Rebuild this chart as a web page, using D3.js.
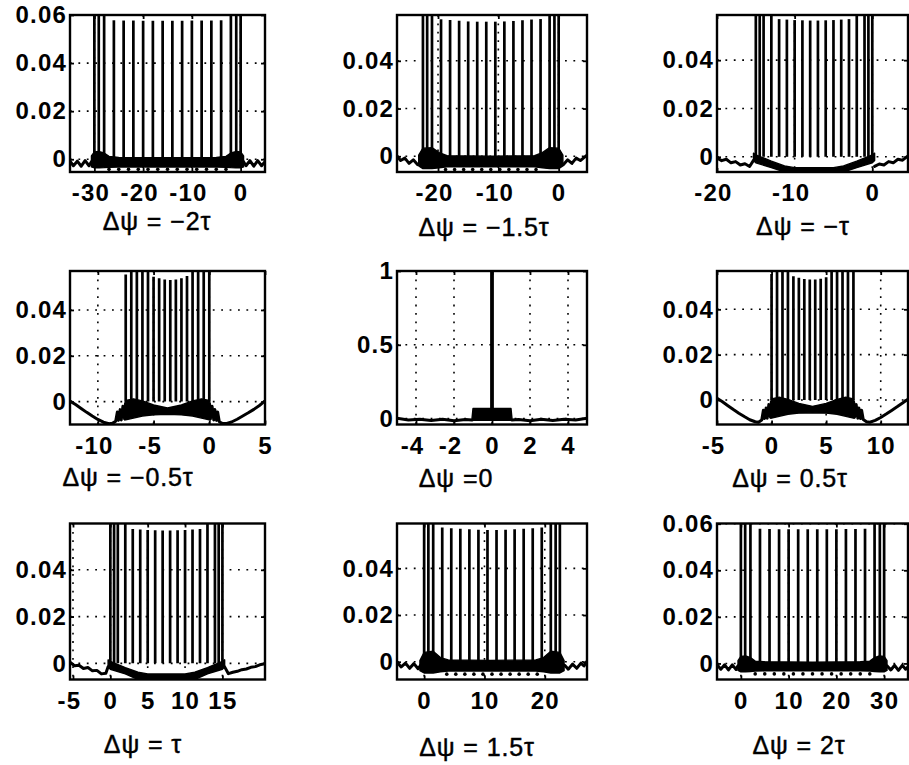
<!DOCTYPE html>
<html>
<head>
<meta charset="utf-8">
<script src="https://cdn.jsdelivr.net/npm/d3@7"></script>
<style>
  html, body { margin: 0; padding: 0; background: #fff; }
  svg { display: block; }
  .tick text { font-family: "Liberation Sans", Arial, Helvetica, sans-serif; font-weight: bold; font-size: 24px; fill: #000; letter-spacing: 1.2px; }
  .panel-title { font-family: "Liberation Sans", Arial, Helvetica, sans-serif; font-size: 25px; fill: #000; stroke: #000; stroke-width: 0.45px; letter-spacing: 0.9px; }
</style>
</head>
<body>
<svg id="fig" width="909" height="765"></svg>
<script>
// ---------------- values ----------------
const titles = ["Δψ = −2τ", "Δψ = −1.5τ", "Δψ = −τ", "Δψ = −0.5τ", "Δψ =0", "Δψ = 0.5τ", "Δψ = τ", "Δψ = 1.5τ", "Δψ = 2τ"];

const xLimits = [[-35, 5], [-26.8, 4.7], [-20, 4.6], [-12.5, 5], [-5, 5], [-5, 12.5], [-5.4, 20.7], [-4.5, 27], [-5, 35]];
const yLimits = [[-0.0053, 0.06], [-0.0066, 0.0592], [-0.0063, 0.0587], [-0.0100, 0.0570], [-0.04, 1], [-0.0108, 0.0569], [-0.0069, 0.0598], [-0.0076, 0.0592], [-0.0069, 0.0601]];

const xTickValues = [[-30, -20, -10, 0], [-20, -10, 0], [-20, -10, 0], [-10, -5, 0, 5], [-4, -2, 0, 2, 4], [-5, 0, 5, 10], [-5, 0, 5, 10, 15], [0, 10, 20], [0, 10, 20, 30]];
const xTickLabels = [["-30", "-20", "-10", "0"], ["-20", "-10", "0"], ["-20", "-10", "0"], ["-10", "-5", "0", "5"], ["-4", "-2", "0", "2", "4"], ["-5", "0", "5", "10"], ["-5", "0", "5", "10", "15"], ["0", "10", "20"], ["0", "10", "20", "30"]];
const yTickValues = [[0, 0.02, 0.04, 0.06], [0, 0.02, 0.04], [0, 0.02, 0.04], [0, 0.02, 0.04], [0, 0.5, 1], [0, 0.02, 0.04], [0, 0.02, 0.04], [0, 0.02, 0.04], [0, 0.02, 0.04, 0.06]];
const yTickLabels = [["0", "0.02", "0.04", "0.06"], ["0", "0.02", "0.04"], ["0", "0.02", "0.04"], ["0", "0.02", "0.04"], ["0", "0.5", "1"], ["0", "0.02", "0.04"], ["0", "0.02", "0.04"], ["0", "0.02", "0.04"], ["0", "0.02", "0.04", "0.06"]];

// peaks: [offset, level]
const spikesA = [[-30, 0.0625], [-29.1, 0.0625], [-28, 0.0625], [-26, 0.0578], [-24, 0.0577], [-22, 0.0577], [-20, 0.0576], [-18, 0.0576], [-16, 0.0576], [-14, 0.0576], [-12, 0.0576], [-10, 0.0577], [-8, 0.0577], [-6, 0.0577], [-4, 0.0578], [-2, 0.0625], [-0.9, 0.0625], [0, 0.0625]];
const spikesB = [[-22.5, 0.0625], [-21.8, 0.0625], [-21, 0.0625], [-19.5, 0.0574], [-18, 0.0571], [-16.5, 0.0568], [-15, 0.0565], [-13.5, 0.0564], [-12, 0.0564], [-10.5, 0.0564], [-9, 0.0565], [-7.5, 0.0567], [-6, 0.0570], [-4.5, 0.0573], [-3, 0.0575], [-1.5, 0.0625], [-0.7, 0.0625], [0, 0.0625]];
const spikesC = [[-15, 0.0625], [-14.5, 0.0625], [-14, 0.0625], [-13, 0.0625], [-12, 0.0570], [-11, 0.0568], [-10, 0.0566], [-9, 0.0565], [-8, 0.0564], [-7, 0.0564], [-6, 0.0565], [-5, 0.0566], [-4, 0.0568], [-3, 0.0570], [-2, 0.0625], [-1, 0.0625], [-0.5, 0.0625], [0, 0.0625]];
const spikesD = [[-7.5, 0.0555], [-7, 0.0625], [-6.5, 0.0625], [-6, 0.0625], [-5.5, 0.0625], [-5, 0.0545], [-4.5, 0.0538], [-4, 0.0533], [-3.5, 0.0531], [-3, 0.0533], [-2.5, 0.0538], [-2, 0.0548], [-1.5, 0.0625], [-1, 0.0625], [-0.5, 0.0625], [0, 0.0625]];
const spikesE = [[0, 1]];
const spikesF = [[0, 0.0556], [0.5, 0.0625], [1, 0.0625], [1.5, 0.0625], [2, 0.0546], [2.5, 0.0539], [3, 0.0534], [3.5, 0.0531], [4, 0.0532], [4.5, 0.0535], [5, 0.0541], [5.5, 0.0625], [6, 0.0625], [6.5, 0.0625], [7, 0.0625], [7.5, 0.0625]];
const spikesG = [[0, 0.0625], [0.5, 0.0625], [1, 0.0625], [2, 0.0625], [3, 0.0574], [4, 0.0572], [5, 0.0570], [6, 0.0569], [7, 0.0568], [8, 0.0568], [9, 0.0569], [10, 0.0570], [11, 0.0572], [12, 0.0574], [13, 0.0625], [14, 0.0625], [14.5, 0.0625], [15, 0.0625]];
const spikesH = [[0, 0.0625], [0.7, 0.0625], [1.5, 0.0625], [3, 0.0575], [4.5, 0.0572], [6, 0.0569], [7.5, 0.0567], [9, 0.0565], [10.5, 0.0564], [12, 0.0564], [13.5, 0.0565], [15, 0.0567], [16.5, 0.0569], [18, 0.0572], [19.5, 0.0575], [21, 0.0625], [21.8, 0.0625], [22.5, 0.0625]];
const spikesI = [[0, 0.0625], [0.9, 0.0625], [2, 0.0625], [4, 0.0578], [6, 0.0577], [8, 0.0576], [10, 0.0576], [12, 0.0576], [14, 0.0576], [16, 0.0576], [18, 0.0576], [20, 0.0576], [22, 0.0577], [24, 0.0577], [26, 0.0578], [28, 0.0625], [29.1, 0.0625], [30, 0.0625]];

// dense floor under the peaks: [offset, lower, upper]
const floorA = [[-30.6, -0.0032, 0.0014], [-30, -0.0036, 0.0030], [-29, -0.0036, 0.0032], [-28, -0.0035, 0.0026], [-27, -0.0033, 0.0012], [-25, -0.0032, 0.0008], [-15, -0.0032, 0.0006], [-5, -0.0032, 0.0008], [-3, -0.0033, 0.0012], [-2, -0.0035, 0.0026], [-1, -0.0036, 0.0032], [0, -0.0036, 0.0030], [0.6, -0.0032, 0.0014]];
const floorB = [[-23.2, -0.0040, 0.0005], [-22.5, -0.0052, 0.0034], [-21, -0.0052, 0.0036], [-19.8, -0.0048, 0.0015], [-18.5, -0.0044, 0.0002], [-11, -0.0044, 0.0000], [-4, -0.0044, 0.0002], [-2.7, -0.0048, 0.0015], [-1.5, -0.0052, 0.0036], [0, -0.0052, 0.0034], [0.7, -0.0040, 0.0005]];
const floorC = [[-15.3, -0.0015, 0.0015], [-15, -0.0025, 0.0008], [-13, -0.0045, -0.0018], [-11.3, -0.0063, -0.0038], [-10, -0.0063, -0.0045], [-5, -0.0063, -0.0045], [-3.7, -0.0063, -0.0038], [-2, -0.0045, -0.0018], [0, -0.0025, 0.0008], [0.3, -0.0015, 0.0015]];
const floorD = [[-7.6, -0.0080, -0.0010], [-7.5, -0.0080, 0.0005], [-6.8, -0.0072, 0.0012], [-6, -0.0063, 0.0003], [-5, -0.0058, -0.0015], [-3.75, -0.0056, -0.0028], [-2.5, -0.0058, -0.0015], [-1.5, -0.0063, 0.0003], [-0.7, -0.0072, 0.0012], [0, -0.0080, 0.0005], [0.1, -0.0080, -0.0010]];
const floorE = [[-1.05, -0.012, 0.004], [-1, -0.012, 0.068], [1, -0.012, 0.068], [1.05, -0.012, 0.004]];
const floorF = [[-0.1, -0.0080, -0.0010], [0, -0.0080, 0.0005], [0.7, -0.0072, 0.0012], [1.5, -0.0063, 0.0003], [2.5, -0.0058, -0.0015], [3.75, -0.0056, -0.0028], [5, -0.0058, -0.0015], [6, -0.0063, 0.0003], [6.8, -0.0072, 0.0012], [7.5, -0.0080, 0.0005], [7.6, -0.0080, -0.0010]];
const floorG = [[-0.3, -0.0015, 0.0015], [0, -0.0025, 0.0008], [2, -0.0045, -0.0018], [3.7, -0.0069, -0.0038], [5, -0.0069, -0.0045], [10, -0.0069, -0.0045], [11.3, -0.0069, -0.0038], [13, -0.0045, -0.0018], [15, -0.0025, 0.0008], [15.3, -0.0015, 0.0015]];
const floorH = [[-0.7, -0.0038, 0.0005], [0, -0.0048, 0.0040], [1.5, -0.0048, 0.0045], [2.7, -0.0043, 0.0018], [4, -0.0040, 0.0008], [11, -0.0040, 0.0006], [18.5, -0.0040, 0.0008], [19.8, -0.0043, 0.0018], [21, -0.0048, 0.0045], [22.5, -0.0048, 0.0040], [23.2, -0.0038, 0.0005]];
const floorI = [[-0.6, -0.0030, 0.0012], [0, -0.0036, 0.0030], [1, -0.0036, 0.0032], [2, -0.0035, 0.0025], [3, -0.0033, 0.0010], [5, -0.0032, 0.0007], [15, -0.0032, 0.0005], [25, -0.0032, 0.0007], [27, -0.0033, 0.0010], [28, -0.0035, 0.0025], [29, -0.0036, 0.0032], [30, -0.0036, 0.0030], [30.6, -0.0030, 0.0012]];

// troughs between peaks: [offset, level]
const dipsA = [[-27, -0.0042], [-25, -0.0042], [-23, -0.0042], [-21, -0.0042], [-19, -0.0042], [-17, -0.0042], [-15, -0.0042], [-13, -0.0042], [-11, -0.0042], [-9, -0.0042], [-7, -0.0042], [-5, -0.0042], [-3, -0.0042]];
const dipsB = [[-18.75, -0.0056], [-17.25, -0.0056], [-15.75, -0.0056], [-14.25, -0.0056], [-12.75, -0.0056], [-11.25, -0.0056], [-9.75, -0.0056], [-8.25, -0.0056], [-6.75, -0.0056], [-5.25, -0.0056], [-3.75, -0.0056]];
const dipsC = [];
const dipsD = [];
const dipsE = [];
const dipsF = [];
const dipsG = [];
const dipsH = [[3.75, -0.0053], [5.25, -0.0053], [6.75, -0.0053], [8.25, -0.0053], [9.75, -0.0053], [11.25, -0.0053], [12.75, -0.0053], [14.25, -0.0053], [15.75, -0.0053], [17.25, -0.0053], [18.75, -0.0053]];
const dipsI = [[3, -0.0045], [5, -0.0045], [7, -0.0045], [9, -0.0045], [11, -0.0045], [13, -0.0045], [15, -0.0045], [17, -0.0045], [19, -0.0045], [21, -0.0045], [23, -0.0045], [25, -0.0045], [27, -0.0045]];

// sidelobe traces outside the peak region: [offset, level]
const leftA = [[-35, -0.0008], [-34.3, -0.0027], [-33.5, -0.0008], [-32.7, -0.0029], [-31.9, -0.0006], [-31.1, -0.0027], [-30.6, -0.0010]];
const rightA = [[0.6, -0.0010], [1.1, -0.0027], [1.9, -0.0006], [2.7, -0.0029], [3.5, -0.0006], [4.3, -0.0027], [5, -0.0010]];
const leftB = [[-26.8, 0.0000], [-26.2, -0.0018], [-25.5, -0.0008], [-24.8, -0.0030], [-24.1, -0.0015], [-23.4, -0.0035]];
const rightB = [[0.8, -0.0035], [1.5, -0.0015], [2.2, -0.0030], [2.9, -0.0008], [3.6, -0.0018], [4.7, 0.0005]];
const leftC = [[-20, -0.0005], [-19.4, -0.0016], [-18.8, -0.0010], [-18.2, -0.0025], [-17.6, -0.0020], [-17, -0.0034], [-16.4, -0.0029], [-15.8, -0.0040], [-15.3, -0.0015]];
const rightC = [[0.3, -0.0040], [0.9, -0.0030], [1.5, -0.0034], [2.1, -0.0020], [2.7, -0.0025], [3.3, -0.0010], [3.9, -0.0014], [4.6, 0.0004]];
const leftD = [[-12.5, 0.0002], [-12, -0.0013], [-11.5, -0.0030], [-11, -0.0047], [-10.5, -0.0063], [-10, -0.0078], [-9.5, -0.0090], [-9, -0.0097], [-8.7, -0.0095], [-8.4, -0.0086], [-8.25, -0.0045], [-8.15, -0.0082], [-8.0, -0.0035], [-7.9, -0.0080], [-7.75, -0.0020], [-7.6, -0.0075]];
const rightD = [[0.1, -0.0075], [0.25, -0.0020], [0.4, -0.0080], [0.5, -0.0035], [0.65, -0.0082], [0.75, -0.0045], [0.9, -0.0088], [1.2, -0.0096], [1.5, -0.0096], [2, -0.0089], [2.5, -0.0077], [3, -0.0063], [3.5, -0.0049], [4, -0.0034], [4.5, -0.0017], [5, 0.0003]];
const leftE = [[-5, 0.002], [-4.4, -0.010], [-3.8, -0.004], [-3.2, -0.013], [-2.6, -0.005], [-2, -0.014], [-1.4, -0.006], [-1.05, -0.010]];
const rightE = [[1.05, -0.010], [1.4, -0.006], [2, -0.014], [2.6, -0.005], [3.2, -0.013], [3.8, -0.004], [4.4, -0.010], [5, 0.002]];
const leftF = [[-5, 0.0008], [-4.5, -0.0008], [-4, -0.0025], [-3.5, -0.0042], [-3, -0.0058], [-2.5, -0.0073], [-2, -0.0087], [-1.5, -0.0096], [-1.2, -0.0098], [-0.9, -0.0088], [-0.75, -0.0045], [-0.65, -0.0082], [-0.5, -0.0035], [-0.4, -0.0080], [-0.25, -0.0020], [-0.1, -0.0075]];
const rightF = [[7.6, -0.0075], [7.75, -0.0020], [7.9, -0.0080], [8.0, -0.0035], [8.15, -0.0082], [8.25, -0.0045], [8.4, -0.0086], [8.7, -0.0096], [9, -0.0098], [9.5, -0.0090], [10, -0.0077], [10.5, -0.0062], [11, -0.0046], [11.5, -0.0030], [12, -0.0013], [12.5, 0.0004]];
const leftG = [[-5.4, 0.0005], [-4.8, -0.0010], [-4.2, -0.0008], [-3.6, -0.0022], [-3, -0.0018], [-2.4, -0.0032], [-1.8, -0.0030], [-1.2, -0.0045], [-0.6, -0.0042], [-0.3, -0.0015]];
const rightG = [[15.3, -0.0015], [15.8, -0.0044], [16.4, -0.0038], [17, -0.0034], [17.6, -0.0027], [18.2, -0.0024], [18.8, -0.0017], [19.4, -0.0014], [20, -0.0006], [20.7, -0.0002]];
const leftH = [[-4.5, -0.0002], [-3.8, -0.0022], [-3.1, -0.0006], [-2.4, -0.0028], [-1.7, -0.0008], [-1, -0.0030], [-0.6, -0.0015]];
const rightH = [[23.3, -0.0015], [23.9, -0.0032], [24.6, -0.0010], [25.3, -0.0028], [26, -0.0006], [26.5, -0.0018], [27, 0.0002]];
const leftI = [[-5, -0.0005], [-4.2, -0.0025], [-3.4, -0.0006], [-2.6, -0.0028], [-1.8, -0.0006], [-1, -0.0026], [-0.6, -0.0010]];
const rightI = [[30.6, -0.0010], [31.4, -0.0028], [32.2, -0.0008], [33, -0.0030], [33.8, -0.0008], [34.5, -0.0025], [35, -0.0015]];

// ---------------- layout ----------------
const colX = [[70, 265], [397, 587], [717, 908]];
const rowY = [[15, 172], [271, 424.5], [523.5, 679.5]];
const titleAt = [[157, 230], [484, 236], [803, 235], [128, 486], [456, 487], [790, 487], [143, 753], [477, 756], [799, 754]];

const spikes = [spikesA, spikesB, spikesC, spikesD, spikesE, spikesF, spikesG, spikesH, spikesI];
const floors = [floorA, floorB, floorC, floorD, floorE, floorF, floorG, floorH, floorI];
const dips = [dipsA, dipsB, dipsC, dipsD, dipsE, dipsF, dipsG, dipsH, dipsI];
const sides = [[leftA, rightA], [leftB, rightB], [leftC, rightC], [leftD, rightD], [leftE, rightE], [leftF, rightF], [leftG, rightG], [leftH, rightH], [leftI, rightI]];

const svg = d3.select("#fig");

titles.forEach((title, i) => {
  const [x0, x1] = colX[i % 3];
  const [y0, y1] = rowY[Math.floor(i / 3)];
  const w = x1 - x0, h = y1 - y0;
  const x = d3.scaleLinear().domain(xLimits[i]).range([0, w]);
  const y = d3.scaleLinear().domain(yLimits[i]).range([h, 0]);

  const g = svg.append("g").attr("transform", `translate(${x0},${y0})`);
  const clipId = `clip-${i}`;
  g.append("clipPath").attr("id", clipId).append("rect").attr("width", w).attr("height", h);
  const plot = g.append("g").attr("clip-path", `url(#${clipId})`);

  // dotted grid
  plot.selectAll("line.gx").data(xTickValues[i]).join("line").attr("class", "gx")
    .attr("x1", d => x(d)).attr("x2", d => x(d)).attr("y1", 0).attr("y2", h)
    .attr("stroke", "#000").attr("stroke-width", 1.6).attr("stroke-dasharray", "1.8,6.6");
  plot.selectAll("line.gy").data(yTickValues[i]).join("line").attr("class", "gy")
    .attr("y1", d => y(d)).attr("y2", d => y(d)).attr("x1", 0).attr("x2", w)
    .attr("stroke", "#000").attr("stroke-width", 1.6).attr("stroke-dasharray", "1.8,6.6");

  // dense floor
  const area = d3.area().x(d => x(d[0])).y0(d => y(d[1])).y1(d => y(d[2]));
  plot.append("path").datum(floors[i]).attr("d", area).attr("fill", "#000")
    .attr("stroke", "#000").attr("stroke-width", 1.4).attr("stroke-linejoin", "round");

  // sidelobe traces
  const line = d3.line().x(d => x(d[0])).y(d => y(d[1]));
  sides[i].forEach(s => {
    plot.append("path").datum(s).attr("d", line).attr("fill", "none")
      .attr("stroke", "#000").attr("stroke-width", 3).attr("stroke-linejoin", "round").attr("stroke-linecap", "round");
  });

  // troughs
  plot.selectAll("circle.dip").data(dips[i]).join("circle").attr("class", "dip")
    .attr("cx", d => x(d[0])).attr("cy", d => y(d[1])).attr("r", 1.8).attr("fill", "#000");

  // peaks
  plot.selectAll("line.spike").data(spikes[i]).join("line").attr("class", "spike")
    .attr("x1", d => x(d[0])).attr("x2", d => x(d[0]))
    .attr("y1", y(0)).attr("y2", d => y(d[1]))
    .attr("stroke", "#000").attr("stroke-width", i === 4 ? 3.8 : 2.7);

  // frame
  g.append("rect").attr("width", w).attr("height", h)
    .attr("fill", "none").attr("stroke", "#000").attr("stroke-width", 2.4);

  // axes
  const xLab = xTickLabels[i], yLab = yTickLabels[i];
  const bottom = g.append("g").attr("transform", `translate(0,${h})`)
    .call(d3.axisBottom(x).tickValues(xTickValues[i]).tickSize(-4).tickPadding(12)
      .tickFormat((d, k) => xLab[k]));
  bottom.selectAll("text").attr("dx", d => d < 0 ? -4 : 0);
  g.append("g").call(d3.axisTop(x).tickValues(xTickValues[i]).tickSize(-4).tickFormat(""));
  g.append("g")
    .call(d3.axisLeft(y).tickValues(yTickValues[i]).tickSize(-4).tickPadding(3)
      .tickFormat((d, k) => yLab[k]));
  g.append("g").attr("transform", `translate(${w},0)`)
    .call(d3.axisRight(y).tickValues(yTickValues[i]).tickSize(-4).tickFormat(""));
  g.selectAll(".domain").remove();
  g.selectAll(".tick line").attr("stroke", "#000").attr("stroke-width", 1.8);

  // caption
  svg.append("text").attr("class", "panel-title")
    .attr("x", titleAt[i][0]).attr("y", titleAt[i][1])
    .attr("text-anchor", "middle").text(title);
});
</script>
</body>
</html>
